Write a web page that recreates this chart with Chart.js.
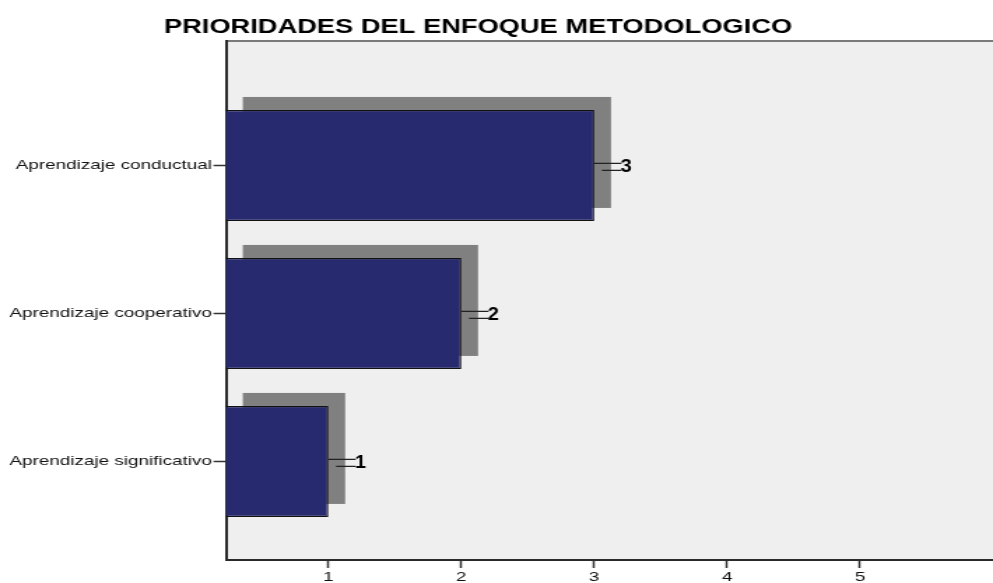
<!DOCTYPE html>
<html>
<head>
<meta charset="utf-8">
<script src="https://cdn.jsdelivr.net/npm/chart.js@4/dist/chart.umd.min.js"></script>
<style>
  html, body { margin: 0; padding: 0; background: #fff; overflow: hidden; }
  /* the reference is stretched sideways, so the canvas is drawn narrow and widened */
  #chart { display: block; width: 993px; height: 583px; }
</style>
</head>
<body>
<canvas id="chart" width="710" height="583" style="width:993px;height:583px"></canvas>
<script>
const title = 'PRIORIDADES DEL ENFOQUE METODOLOGICO';
const categories = ['Aprendizaje conductual', 'Aprendizaje cooperativo', 'Aprendizaje significativo'];
const positions = [1, 2, 3];
const values = [3, 2, 1];
const xTicks = [1, 2, 3, 4, 5];

const STRETCH = 993 / 710;

// grey plot background + top border
const backdrop = {
    id: 'backdrop',
    beforeDraw(chart) {
        const {ctx, chartArea: a} = chart;
        ctx.save();
        ctx.fillStyle = '#efefef';
        ctx.fillRect(a.left, a.top, a.right - a.left, a.bottom - a.top);
        ctx.strokeStyle = '#7a7a7a';
        ctx.lineWidth = 2;
        ctx.beginPath();
        ctx.moveTo(a.left, a.top);
        ctx.lineTo(a.right, a.top);
        ctx.stroke();
        ctx.restore();
    }
};

// the 3D-ish grey shadow behind each bar
const shadows = {
    id: 'shadows',
    beforeDatasetsDraw(chart) {
        const {ctx, chartArea: a} = chart;
        const meta = chart.getDatasetMeta(0);
        const dx = 12, dy = -13;
        ctx.save();
        ctx.beginPath();
        ctx.rect(a.left, a.top, a.right - a.left, a.bottom - a.top);
        ctx.clip();
        ctx.fillStyle = '#808080';
        meta.data.forEach(bar => {
            const left = Math.max(bar.base, a.left) + dx;
            const top = bar.y - bar.height / 2 + dy;
            ctx.fillRect(left, top, bar.x + dx - left, bar.height);
        });
        ctx.restore();
    }
};

// value labels with the little double leader line, and the title
const labels = {
    id: 'labels',
    afterDraw(chart) {
        const {ctx} = chart;
        const meta = chart.getDatasetMeta(0);
        ctx.save();
        ctx.strokeStyle = '#222';
        ctx.lineWidth = 1.2;
        ctx.fillStyle = '#000';
        ctx.font = 'bold 19px "Liberation Sans", Arial, sans-serif';
        ctx.textBaseline = 'alphabetic';
        meta.data.forEach((bar, i) => {
            const end = bar.x + 19.5;
            ctx.beginPath();
            ctx.moveTo(bar.x, bar.y - 2);
            ctx.lineTo(end, bar.y - 2);
            ctx.moveTo(bar.x + 5.5, bar.y + 5);
            ctx.lineTo(end, bar.y + 5);
            ctx.stroke();
            ctx.save();
            ctx.translate(end - 0.5, bar.y + 6.5);
            ctx.scale(1 / STRETCH * 1.05, 1);
            ctx.fillText(String(values[i]), 0, 0);
            ctx.restore();
        });
        ctx.font = 'bold 19.5px "Liberation Sans", Arial, sans-serif';
        ctx.textAlign = 'center';
        ctx.fillText(title, 478 / STRETCH, 33);
        ctx.restore();
    }
};

new Chart(document.getElementById('chart'), {
    type: 'bar',
    data: {
        datasets: [{
            data: positions.map((p, i) => ({x: values[i], y: p})),
            backgroundColor: '#282a70',
            borderColor: '#111',
            borderWidth: 1.2,
            borderSkipped: false,
            barPercentage: 0.75,
            categoryPercentage: 1
        }]
    },
    options: {
        indexAxis: 'y',
        responsive: false,
        animation: false,
        devicePixelRatio: 1,
        layout: { padding: { top: 41, right: 0, bottom: 0, left: 0 } },
        plugins: {
            legend: { display: false },
            tooltip: { enabled: false },
            title: { display: false }
        },
        scales: {
            x: {
                type: 'linear',
                min: 0.23,
                max: 6,
                afterBuildTicks(scale) {
                    scale.ticks = xTicks.map(v => ({value: v}));
                },
                afterFit(scale) { scale.height = 23; },
                grid: { drawOnChartArea: false, tickLength: 8, tickColor: '#333', tickWidth: 1.5 },
                border: { display: true, color: '#2a2a2a', width: 2 },
                ticks: {
                    color: '#111',
                    padding: 1,
                    maxRotation: 0,
                    font: { family: '"Liberation Sans", Arial, sans-serif', size: 13.5 }
                }
            },
            y: {
                type: 'linear',
                reverse: true,
                offset: false,
                min: 0.159,
                max: 3.666,
                afterBuildTicks(scale) {
                    scale.ticks = positions.map(v => ({value: v}));
                },
                afterFit(scale) { scale.width = 161.6; },
                grid: { offset: false, drawOnChartArea: false, tickLength: 9, tickColor: '#333', tickWidth: 1.5 },
                border: { display: true, color: '#2a2a2a', width: 2 },
                ticks: {
                    color: '#111',
                    padding: 1,
                    font: { family: '"Liberation Sans", Arial, sans-serif', size: 13.5 },
                    callback: (v) => categories[positions.indexOf(v)] || ''
                }
            }
        }
    },
    plugins: [backdrop, shadows, labels]
});
</script>
</body>
</html>
